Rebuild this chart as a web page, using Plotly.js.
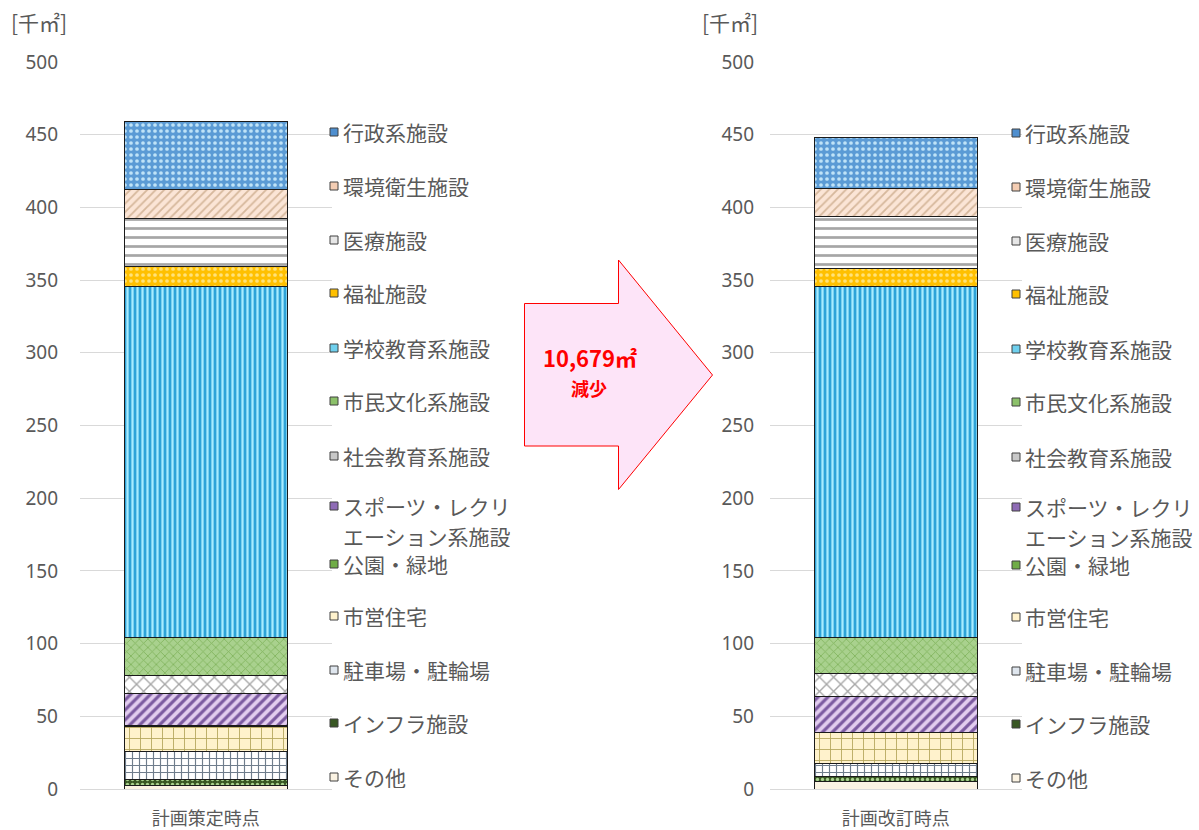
<!DOCTYPE html>
<html>
<head>
<meta charset="utf-8">
<script src="https://cdn.plot.ly/plotly-3.0.1.min.js"></script>
<style>html,body{margin:0;padding:0;background:#fff;}#chart{width:1199px;height:830px;}</style>
</head>
<body>
<div id="chart"></div>
<script>
// ---- data ----
const categories = ['計画策定時点', '計画改訂時点'];
const seriesNames = ['その他', 'インフラ施設', '駐車場・駐輪場', '市営住宅', '公園・緑地',
  'スポーツ・レクリエーション系施設', '社会教育系施設', '市民文化系施設', '学校教育系施設',
  '福祉施設', '医療施設', '環境衛生施設', '行政系施設'];
const valOther   = [2.7, 5.0];
const valInfra   = [4.0, 3.9];
const valParking = [19.0, 8.3];
const valHousing = [17.6, 21.5];
const valPark    = [0.3, 0.3];
const valSport   = [22.0, 24.3];
const valSocial  = [12.4, 16.1];
const valCulture = [25.9, 24.5];
const valSchool  = [241.9, 241.9];
const valWelfare = [13.5, 12.1];
const valMedical = [33.0, 35.6];
const valEnv     = [19.7, 19.2];
const valAdmin   = [46.8, 35.5];
const seriesValues = [valOther, valInfra, valParking, valHousing, valPark, valSport,
  valSocial, valCulture, valSchool, valWelfare, valMedical, valEnv, valAdmin];
const yTicks = [0, 50, 100, 150, 200, 250, 300, 350, 400, 450, 500];
const unitLabel = '[千㎡]';
const arrowLabel = '10,679㎡';
const arrowSub = '減少';
// legend (top to bottom)
const legendOrder = [12, 11, 10, 9, 8, 7, 6, 5, 4, 3, 2, 1, 0];
const legendLines = {5: ['スポーツ・レクリ', 'エーション系施設']};

// ---- styles ----
const styles = [
  {bg: '#fbf3e3', fg: '#fbf3e3', shape: '', size: 8, sol: 0.3},      // その他
  {bg: '#385723', fg: '#a9d18e', shape: '.', size: 5, sol: 0.35},     // インフラ
  {bg: '#ffffff', fg: '#6f7d8c', shape: '+', size: 7, sol: 0.3},      // 駐車場
  {bg: '#fff2cc', fg: '#b4a55a', shape: '+', size: 11, sol: 0.15},    // 市営住宅
  {bg: '#70ad47', fg: '#70ad47', shape: '', size: 8, sol: 0.3},       // 公園
  {bg: '#e2cdef', fg: '#7b5aa0', shape: '/', size: 7, sol: 0.45},     // スポーツ
  {bg: '#ffffff', fg: '#a6a6a6', shape: 'x', size: 10, sol: 0.25},    // 社会教育
  {bg: '#a9d18e', fg: '#7fb35a', shape: 'x', size: 6, sol: 0.25},     // 市民文化
  {bg: '#2ea3d8', fg: '#a8ecff', shape: '|', size: 5, sol: 0.45},     // 学校
  {bg: '#ffc000', fg: '#ffe27a', shape: '.', size: 6, sol: 0.3},      // 福祉
  {bg: '#ffffff', fg: '#a6a6a6', shape: '-', size: 9, sol: 0.3},      // 医療
  {bg: '#fbe5d6', fg: '#d6b89c', shape: '/', size: 6, sol: 0.3},      // 環境
  {bg: '#5b9bd5', fg: '#bfe3f7', shape: '.', size: 6, sol: 0.3}       // 行政
];
const legendColors = ['#fbf3e3', '#385723', '#dfe6ee', '#fff2cc', '#70ad47', '#8e6bb5',
  '#c8c8c8', '#8cc16a', '#6fd0ee', '#ffc000', '#e6e6e6', '#f4cdb3', '#4f8fcf'];

const W = 1199, H = 830;
const px = x => x / W;
const py = y => 1 - y / H;
const gray = '#595959';
const jpFont = '"Noto Sans CJK JP", "Noto Sans", sans-serif';
const numFont = '"Noto Sans", "DejaVu Sans", sans-serif';

const traces = [];
seriesNames.forEach((name, i) => {
  const st = styles[i];
  [0, 1].forEach(k => {
    traces.push({
      type: 'bar',
      name: name,
      x: [categories[k]],
      y: [seriesValues[i][k]],
      xaxis: k === 0 ? 'x' : 'x2',
      yaxis: k === 0 ? 'y' : 'y2',
      showlegend: false,
      hoverinfo: 'name+y',
      marker: {
        color: st.bg,
        line: {color: '#1a1a1a', width: 1},
        pattern: {shape: st.shape, bgcolor: st.bg, fgcolor: st.fg, size: st.size, solidity: st.sol, fillmode: 'replace'}
      }
    });
  });
});

const yDomain = [py(789), py(62)];
function yAxis(anchor, standoff) {
  return {
    domain: yDomain, range: [0, 500], anchor: anchor,
    tickvals: yTicks, ticktext: yTicks.map(String),
    showgrid: true, gridcolor: '#d9d9d9', gridwidth: 1,
    zeroline: true, zerolinecolor: '#d9d9d9', zerolinewidth: 1,
    showline: false, ticks: '',
    tickfont: {family: numFont, size: 19, color: gray},
    ticklabelstandoff: standoff
  };
}
function xAxis(domain, anchor) {
  return {
    domain: domain, anchor: anchor, type: 'category', range: [-0.5, 0.5],
    showgrid: false, zeroline: false, showline: false, ticks: '',
    tickfont: {family: jpFont, size: 18, color: gray},
    ticklabelstandoff: 17
  };
}

const annotations = [];
const shapes = [];
function addUnit(x) {
  annotations.push({xref: 'paper', yref: 'paper', x: px(x), y: py(22), xanchor: 'left', yanchor: 'middle',
    text: unitLabel, showarrow: false, font: {family: jpFont, size: 21, color: gray}});
}
addUnit(9); addUnit(700);

const legendY = [132, 186, 240, 293, 348, 401, 456, 506, 564, 616, 670, 723, 777];
function addLegend(markerX, textX, dy) {
  legendOrder.forEach((si, j) => {
    const y = legendY[j] + dy;
    shapes.push({type: 'rect', xref: 'paper', yref: 'paper',
      x0: px(markerX), x1: px(markerX + 8), y0: py(y + 4), y1: py(y - 4),
      fillcolor: legendColors[si], line: {color: '#404040', width: 1}});
    const lines = legendLines[si] || [seriesNames[si]];
    lines.forEach((t, li) => {
      annotations.push({xref: 'paper', yref: 'paper', x: px(textX), y: py(y + li * 30),
        xanchor: 'left', yanchor: 'middle', text: t, showarrow: false,
        height: 22, borderpad: 0,
        font: {family: jpFont, size: 21, color: gray}});
    });
  });
}
addLegend(330, 342, 0);
addLegend(1012, 1024, 1);

// arrow
const pts = [[524.5, 303.5], [618.5, 303.5], [618.5, 260], [712.5, 375], [618.5, 489.5], [618.5, 446], [524.5, 446]];
shapes.push({type: 'path', xref: 'paper', yref: 'paper',
  path: 'M ' + pts.map(p => px(p[0]) + ',' + py(p[1])).join(' L ') + ' Z',
  fillcolor: '#fde4f8', line: {color: '#ff0000', width: 1}});
annotations.push({xref: 'paper', yref: 'paper', x: px(590), y: py(357), xanchor: 'center', yanchor: 'middle',
  text: '<b>' + arrowLabel + '</b>', showarrow: false, font: {family: jpFont, size: 22, color: '#ff0000'}});
annotations.push({xref: 'paper', yref: 'paper', x: px(589), y: py(388.5), xanchor: 'center', yanchor: 'middle',
  text: '<b>' + arrowSub + '</b>', showarrow: false, font: {family: jpFont, size: 18, color: '#ff0000'}});

const layout = {
  width: W, height: H,
  margin: {l: 0, r: 0, t: 0, b: 0},
  paper_bgcolor: '#ffffff', plot_bgcolor: 'rgba(0,0,0,0)',
  barmode: 'stack', bargap: 0.352,
  showlegend: false,
  xaxis: xAxis([px(80), px(331.7)], 'y'),
  yaxis: yAxis('x', 21),
  xaxis2: xAxis([px(770), px(1021.7)], 'y2'),
  yaxis2: yAxis('x2', 15),
  annotations: annotations,
  shapes: shapes,
  font: {family: jpFont, color: gray}
};

Plotly.newPlot('chart', traces, layout, {displayModeBar: false, responsive: false});
</script>
</body>
</html>
